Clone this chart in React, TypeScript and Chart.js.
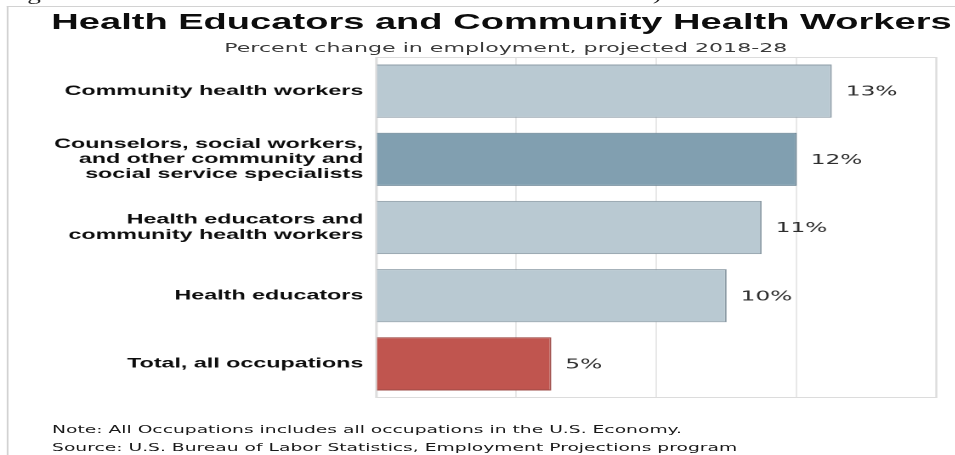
import React, { useEffect, useRef } from "react";
import { Chart, registerables } from "chart.js";

Chart.register(...registerables);

// ---- data ----
const categories: string[][] = [
  ["Community health workers"],
  ["Counselors, social workers,", "and other community and", "social service specialists"],
  ["Health educators and", "community health workers"],
  ["Health educators"],
  ["Total, all occupations"],
];
const values: number[] = [13, 12, 11, 10, 5];
const valueLabels: string[] = ["13%", "12%", "11%", "10%", "5%"];
const xTickValues: number[] = [0, 4, 8, 12, 16];
const titleText = "Health Educators and Community Health Workers";
const subtitleText = "Percent change in employment, projected 2018-28";
const noteLines: string[] = [
  "Note: All Occupations includes all occupations in the U.S. Economy.",
  "Source: U.S. Bureau of Labor Statistics, Employment Projections program",
];

// ---- styles ----
const barColors = ["#b9c9d2", "#819fb0", "#b9c9d2", "#b9c9d2", "#c0554f"];
const barBorders = ["#8d9ca6", "#6d8797", "#8d9ca6", "#8d9ca6", "#9d4a46"];
const STRETCH = 1.7;
const W = 562;
const H = 455;
const PLOT_LEFT = 376 / STRETCH;
const PLOT_RIGHT = 937 / STRETCH;
const PLOT_TOP = 57;
const PLOT_BOTTOM = 398;

const valueLabelPlugin = {
  id: "valueLabels",
  afterDatasetsDraw(chart: any) {
    const ctx = chart.ctx;
    const meta = chart.getDatasetMeta(0);
    ctx.save();
    ctx.font = "13.7px 'DejaVu Sans', Verdana, sans-serif";
    ctx.fillStyle = "#2e2e2e";
    ctx.textAlign = "left";
    ctx.textBaseline = "middle";
    meta.data.forEach((bar: any, i: number) => {
      ctx.fillText(valueLabels[i], bar.x + 8.2, bar.y + 1);
    });
    ctx.restore();
  },
};

const framePlugin = {
  id: "plotFrame",
  beforeDatasetsDraw(chart: any) {
    const { ctx, chartArea } = chart;
    ctx.save();
    ctx.strokeStyle = "#dcdcdc";
    ctx.lineWidth = 1;
    ctx.strokeRect(
      chartArea.left + 0.5,
      chartArea.top + 0.5,
      chartArea.right - chartArea.left - 1,
      chartArea.bottom - chartArea.top - 1
    );
    ctx.restore();
  },
};

export default function App() {
  const canvasRef = useRef<HTMLCanvasElement | null>(null);

  useEffect(() => {
    document.body.style.margin = "0";
    const canvas = canvasRef.current;
    if (!canvas) return;
    const chart = new Chart(canvas, {
      type: "bar",
      data: {
        labels: categories,
        datasets: [
          {
            data: values,
            backgroundColor: barColors,
            borderColor: barBorders,
            borderWidth: 1,
            barPercentage: 0.78,
            categoryPercentage: 1,
          },
        ],
      },
      options: {
        indexAxis: "y",
        animation: false,
        responsive: false,
        devicePixelRatio: 2,
        layout: {
          padding: { left: 0, right: W - PLOT_RIGHT, top: PLOT_TOP, bottom: H - PLOT_BOTTOM },
        },
        plugins: {
          legend: { display: false },
          tooltip: { enabled: false },
          title: { display: false },
        },
        scales: {
          x: {
            min: xTickValues[0],
            max: xTickValues[xTickValues.length - 1],
            ticks: { display: false, stepSize: xTickValues[1] - xTickValues[0] },
            grid: { color: "#e8e8e8", drawTicks: false, lineWidth: 1 },
            border: { display: false },
            afterFit: (scale: any) => {
              scale.height = 0;
            },
          },
          y: {
            grid: { display: false, drawTicks: false },
            border: { display: false },
            ticks: {
              color: "#0d0d0d",
              padding: 7.5,
              font: {
                family: "'Liberation Sans', Arial, Helvetica, sans-serif",
                size: 13.7,
                weight: "bold",
                lineHeight: 1.1,
              },
            },
            afterFit: (scale: any) => {
              scale.width = PLOT_LEFT;
            },
          },
        },
      },
      plugins: [framePlugin, valueLabelPlugin],
    } as any);
    return () => {
      chart.destroy();
    };
  }, []);

  return (
    <div style={{ width: 955, height: 455, overflow: "hidden", position: "relative" }}>
      <div
        style={{
          position: "absolute",
          left: 0,
          top: 0,
          width: W,
          height: H,
          transform: `scale(${STRETCH}, 1)`,
          transformOrigin: "0 0",
        }}
      >
        {/* cut-off line from the page above */}
        <div
          style={{
            position: "absolute",
            left: 0,
            top: 0,
            width: W,
            height: 4,
            overflow: "hidden",
            fontFamily: "'Liberation Serif', serif",
            fontSize: 16,
            lineHeight: "16px",
            color: "#222",
          }}
        >
          <span style={{ position: "absolute", left: 16, top: -12.9 }}>g</span>
          <span style={{ position: "absolute", left: 380, top: -12.9 }}>.)</span>
        </div>
        {/* outer frame */}
        <div
          style={{
            position: "absolute",
            left: 3.5,
            top: 6,
            width: W,
            height: H,
            borderLeft: "1px solid #d2d2d2",
            borderTop: "1px solid #d2d2d2",
          }}
        />
        <canvas
          ref={canvasRef}
          width={W}
          height={H}
          style={{ position: "absolute", left: 0, top: 0, width: W, height: H }}
        />
        <div
          style={{
            position: "absolute",
            left: 0,
            width: 590,
            top: 11,
            textAlign: "center",
            fontFamily: "'Liberation Sans', Arial, Helvetica, sans-serif",
            fontWeight: "bold",
            fontSize: 22.4,
            lineHeight: "22.4px",
            color: "#0d0d0d",
            whiteSpace: "nowrap",
          }}
        >
          {titleText}
        </div>
        <div
          style={{
            position: "absolute",
            left: 0,
            width: 595,
            top: 40.7,
            textAlign: "center",
            fontFamily: "'DejaVu Sans', Verdana, sans-serif",
            fontSize: 13,
            lineHeight: "13px",
            color: "#3a3a3a",
            whiteSpace: "nowrap",
          }}
        >
          {subtitleText}
        </div>
        {noteLines.map((line, i) => (
          <div
            key={i}
            style={{
              position: "absolute",
              left: 30.6,
              top: 423.5 + i * 18,
              fontFamily: "'DejaVu Sans', Verdana, sans-serif",
              fontSize: 11,
              lineHeight: "11px",
              color: "#1a1a1a",
              whiteSpace: "nowrap",
            }}
          >
            {line}
          </div>
        ))}
      </div>
    </div>
  );
}
